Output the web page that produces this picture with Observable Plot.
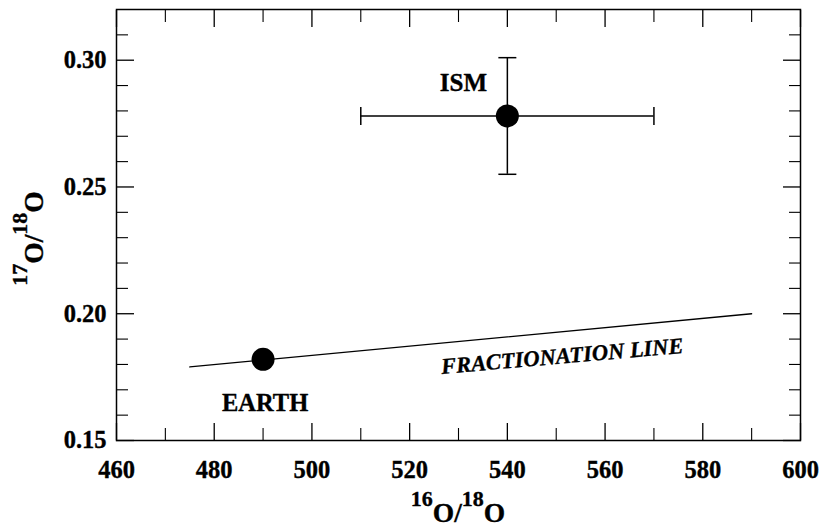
<!DOCTYPE html>
<html><head><meta charset="utf-8">
<script src="https://cdn.jsdelivr.net/npm/d3@7"></script>
<script src="https://cdn.jsdelivr.net/npm/@observablehq/plot@0.6"></script>
<style>body{margin:0;background:#fff} svg text{font-family:'Liberation Serif','Times New Roman','DejaVu Serif',serif !important;}</style>
</head><body><div id="chart"></div>
<script>
// ---- data ----
const pointNames = ["ISM", "EARTH"];
const pointX = [540, 490];
const pointY = [0.278, 0.182];
const ismXErr = [510, 570];
const ismYErr = [0.255, 0.301];
const fracLineX = [475, 590];
const fracLineY = [0.179, 0.200];
const fracLabelText = "FRACTIONATION LINE";
const fracLabelX = 550;
const xMajorTicks = [460, 480, 500, 520, 540, 560, 580, 600];
const xMinorTicks = [470, 490, 510, 530, 550, 570, 590];
const yMajorTicks = [0.15, 0.20, 0.25, 0.30];
const yMinorTicks = [0.16, 0.17, 0.18, 0.19, 0.21, 0.22, 0.23, 0.24, 0.26, 0.27, 0.28, 0.29, 0.31];

const points = pointNames.map((n, i) => ({name: n, x: pointX[i], y: pointY[i]}));
const ism = points[0];
const fracLine = fracLineX.map((x, i) => ({x, y: fracLineY[i]}));
const fracLabel = [{
  x: fracLabelX,
  y: fracLineY[0] + (fracLabelX - fracLineX[0]) * (fracLineY[1] - fracLineY[0]) / (fracLineX[1] - fracLineX[0]),
  text: fracLabelText
}];

const font = "'Liberation Serif', 'Times New Roman', serif";
const hCap = {draw(ctx, size) { const r = Math.sqrt(size / Math.PI); ctx.moveTo(-r, 0); ctx.lineTo(r, 0); }};
const vCap = {draw(ctx, size) { const r = Math.sqrt(size / Math.PI); ctx.moveTo(0, -r); ctx.lineTo(0, r); }};
const blank = () => "";
const heavy = {stroke: "black", strokeWidth: 0.35};

const plot = Plot.plot({
  width: 822,
  height: 528,
  marginLeft: 116,
  marginRight: 22,
  marginTop: 9,
  marginBottom: 88,
  style: {fontFamily: font, fontWeight: "bold", fontSize: "24px", background: "#fff", color: "#000"},
  x: {domain: [460, 600]},
  y: {domain: [0.15, 0.32]},
  marks: [
    // inward ticks, all four sides
    Plot.axisX(xMajorTicks, {anchor: "bottom", tickSize: -17, tickFormat: blank, label: null, strokeWidth: 1.3}),
    Plot.axisX(xMinorTicks, {anchor: "bottom", tickSize: -12, tickFormat: blank, label: null, strokeWidth: 1.1}),
    Plot.axisX(xMajorTicks, {anchor: "top", tickSize: -17, tickFormat: blank, label: null, strokeWidth: 1.3}),
    Plot.axisX(xMinorTicks, {anchor: "top", tickSize: -12, tickFormat: blank, label: null, strokeWidth: 1.1}),
    Plot.axisY(yMajorTicks, {anchor: "left", tickSize: -18, tickFormat: blank, label: null, strokeWidth: 1.3}),
    Plot.axisY(yMinorTicks, {anchor: "left", tickSize: -12, tickFormat: blank, label: null, strokeWidth: 1.1}),
    Plot.axisY(yMajorTicks, {anchor: "right", tickSize: -18, tickFormat: blank, label: null, strokeWidth: 1.3}),
    Plot.axisY(yMinorTicks, {anchor: "right", tickSize: -12, tickFormat: blank, label: null, strokeWidth: 1.1}),
    // tick labels
    Plot.axisX(xMajorTicks, {anchor: "bottom", tickSize: 0, tickPadding: 20, tickFormat: d => String(d), label: null,
      fontSize: 24.5, fontWeight: "bold", fontFamily: font}),
    Plot.axisY(yMajorTicks, {anchor: "left", tickSize: 0, tickPadding: 10, tickFormat: d => d.toFixed(2), label: null,
      fontSize: 24.5, fontWeight: "bold", fontFamily: font}),
    Plot.frame({stroke: "black", strokeWidth: 1.5}),
    // fractionation line
    Plot.line(fracLine, {x: "x", y: "y", stroke: "black", strokeWidth: 1.3}),
    Plot.text(fracLabel, {x: "x", y: "y", text: "text", rotate: -5.0, dx: 6, dy: 24, fontSize: 22.5, fontStyle: "italic",
      fontWeight: "bold", fontFamily: font, fill: "black", ...heavy}),
    // ISM error bars
    Plot.ruleX([ism], {x: "x", y1: () => ismYErr[0], y2: () => ismYErr[1], stroke: "black", strokeWidth: 1.5}),
    Plot.ruleY([ism], {y: "y", x1: () => ismXErr[0], x2: () => ismXErr[1], stroke: "black", strokeWidth: 1.5}),
    Plot.dot(ismYErr.map(y => ({x: ism.x, y})), {x: "x", y: "y", symbol: hCap, r: 9, stroke: "black", strokeWidth: 1.5, fill: "none"}),
    Plot.dot(ismXErr.map(x => ({x, y: ism.y})), {x: "x", y: "y", symbol: vCap, r: 9, stroke: "black", strokeWidth: 1.5, fill: "none"}),
    // points
    Plot.dot(points, {x: "x", y: "y", r: 11.5, fill: "black", stroke: "none"}),
    Plot.text(points.filter(d => d.name === "ISM"), {x: "x", y: "y", text: "name", dx: -44, dy: -25, lineAnchor: "bottom",
      fontSize: 25, fontWeight: "bold", fontFamily: font, fill: "black", ...heavy}),
    Plot.text(points.filter(d => d.name === "EARTH"), {x: "x", y: "y", text: "name", dx: 2, dy: 52, lineAnchor: "bottom",
      fontSize: 24.5, fontWeight: "bold", fontFamily: font, fill: "black", ...heavy})
  ]
});

// Axis titles with raised isotope numbers
const svg = d3.select(plot);
svg.selectAll("g[aria-label='x-axis tick label'] text, g[aria-label='y-axis tick label'] text")
  .attr("stroke", "black").attr("stroke-width", 0.35);
const xr = plot.scale("x").range, yr = plot.scale("y").range;
function isotopeTitle(g, a, b) {
  const t = g.append("text").attr("text-anchor", "middle").attr("font-family", font).attr("font-weight", "bold")
    .attr("fill", "black").attr("stroke", "black").attr("stroke-width", 0.35);
  t.append("tspan").attr("font-size", 22).attr("dy", -16).text(a);
  t.append("tspan").attr("font-size", 27.5).attr("dy", 16).text("O");
  t.append("tspan").attr("font-size", 27.5).text("/");
  t.append("tspan").attr("font-size", 22).attr("dy", -16).text(b);
  t.append("tspan").attr("font-size", 27.5).attr("dy", 16).text("O");
}
isotopeTitle(svg.append("g").attr("transform", `translate(${(xr[0] + xr[1]) / 2},${yr[0] + 82})`), "16", "18");
isotopeTitle(svg.append("g").attr("transform", `translate(${xr[0] - 73},${(yr[0] + yr[1]) / 2 + 14}) rotate(-90)`), "17", "18");

document.getElementById("chart").appendChild(plot);
</script>
</body></html>
